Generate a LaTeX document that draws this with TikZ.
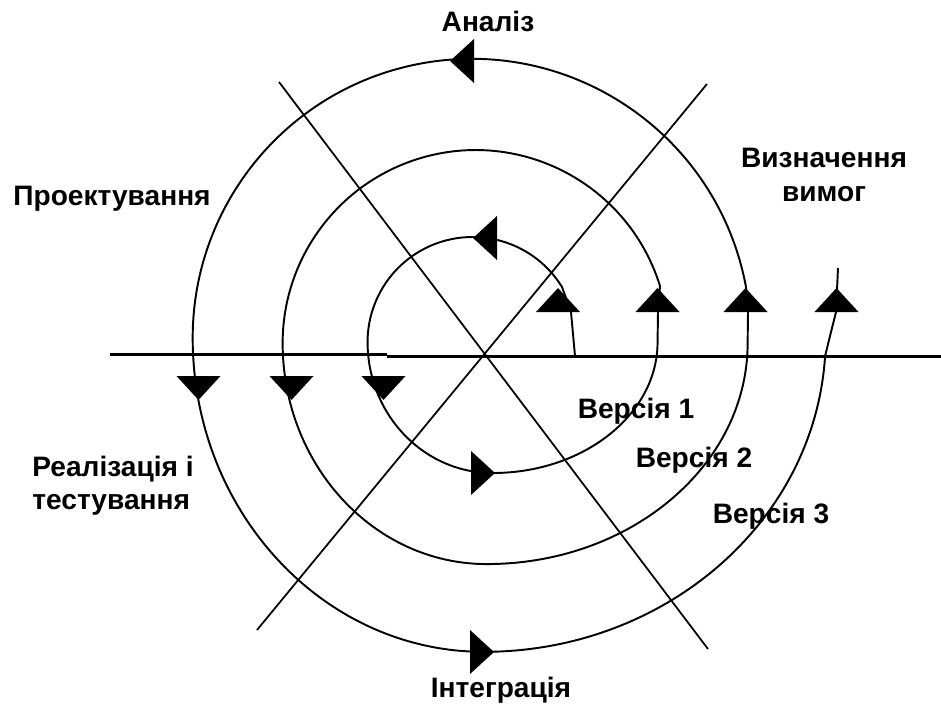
\documentclass[tikz,border=0pt]{standalone}
\usepackage{fontspec}
\setmainfont{Liberation Sans}

% filled arrow head: base centre (#1,#2), pointing at angle #3
\newcommand{\spiraltip}[3]{\fill[shift={(#1,#2)},rotate=#3] (0,-22) -- (24,0) -- (0,22) -- cycle;}

\tikzset{
  lbl/.style={font=\fontsize{16}{19}\selectfont\bfseries, inner sep=0pt},
  axisline/.style={line width=1.4pt},
  crossline/.style={line width=1pt},
  spiral/.style={line width=1.1pt}
}

\begin{document}
\begin{tikzpicture}[x=0.02cm, y=0.02cm, every node/.style={lbl}]
  \useasboundingbox (0,0) rectangle (941,708);
  % axes
  \draw[axisline] (110,353.5) -- (387,353.5);
  \draw[axisline] (387,351.5) -- (941,351.5);
  \draw[crossline] (279,626) -- (708,59);
  \draw[crossline] (707,624) -- (257,78);
  % spiral
  \draw[spiral] (575,352) -- (571,396) -- (562,421)
    arc[start angle=31.6, end angle=180, radius=105]
    arc[start angle=180, end angle=270, x radius=125, y radius=131]
    arc[start angle=270, end angle=360, x radius=165, y radius=131]
    -- (658,396) -- (660,422)
    arc[start angle=17.2, end angle=180, radius=193]
    arc[start angle=180, end angle=270, x radius=204, y radius=221]
    arc[start angle=270, end angle=360, x radius=261, y radius=221]
    -- (748,396) -- (746,421)
    arc[start angle=10.5, end angle=180, radius=279]
    arc[start angle=180, end angle=270, x radius=291, y radius=314]
    arc[start angle=270, end angle=356.7, x radius=342, y radius=314]
    -- (836,396) -- (838,440);
  % arrow heads
  \foreach \x/\y/\a in {558/396/90, 657.5/396/90, 745.5/396/90, 836.5/396/90,
                        198.5/332/-90, 291.5/332/-90, 383.5/332/-90,
                        474/647/180, 497/470/180, 471/235/0, 470/56/0}
    \spiraltip{\x}{\y}{\a};
  % labels
  \node (analiz) at (488,687) {Аналіз};
  \node[align=center] (vymogy) at (824,533) {Визначення\\вимог};
  \node (proekt) at (112,509) {Проектування};
  \node[anchor=west, align=left] (realiz) at (32,222) {Реалізація і\\тестування};
  \node (versia1) at (636,297) {Версія 1};
  \node (versia2) at (694,248) {Версія 2};
  \node (versia3) at (771,192) {Версія 3};
  \node (integr) at (501,18) {Інтеграція};
\end{tikzpicture}
\end{document}
